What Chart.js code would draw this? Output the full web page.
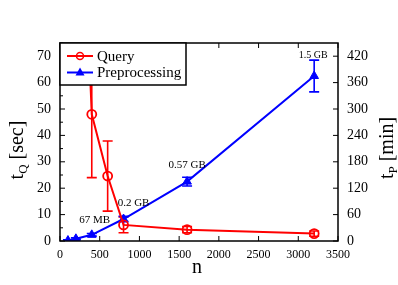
<!DOCTYPE html>
<html><head><meta charset="utf-8">
<script src="https://cdn.jsdelivr.net/npm/chart.js@4/dist/chart.umd.min.js"></script>
<style>html,body{margin:0;padding:0;background:#fff}#wrap{width:398px;height:285px}</style>
</head><body><div id="wrap"><canvas id="c" width="398" height="285"></canvas></div>
<script>
// ---- data ----
const queryN   = [200, 400, 600, 800, 1600, 3200];
const queryT   = [190, 48, 24.6, 6.1, 4.3, 2.8];      // seconds
const queryErr = [0, 24, 13.3, 3.0, 1.2, 1.0];
const preN     = [100, 200, 400, 800, 1600, 3200];
const preT     = [1, 5, 14, 50, 135, 375];            // minutes
const preErr   = [2, 2, 3, 6, 10, 36];
const sizeLabels = ['', '', '67 MB', '0.2 GB', '0.57 GB', '1.5 GB'];
const xTicks      = [0, 500, 1000, 1500, 2000, 2500, 3000, 3500];
const yLeftTicks  = [0, 10, 20, 30, 40, 50, 60, 70];
const yRightTicks = [0, 60, 120, 180, 240, 300, 360, 420];
const seriesNames = ['Query', 'Preprocessing'];

const RED = '#ff0000', BLUE = '#0000ff';
const SERIF = "'Liberation Serif', 'DejaVu Serif', serif";
Chart.defaults.font.family = SERIF;
Chart.defaults.color = '#000';

const labelOffsets = [null, null, [3, -15], [10, -16], [0, -16], [-1, -21]];
const labelFonts = [0, 0, 11, 11, 11, 10];

const extras = {
  id: 'extras',
  beforeDatasetsDraw(chart) {
    const {ctx, chartArea: a, scales} = chart;
    ctx.save();
    ctx.beginPath(); ctx.rect(a.left, a.top, a.right - a.left, a.bottom - a.top); ctx.clip();
    const bars = (ns, ts, es, yS, col) => {
      ctx.strokeStyle = col; ctx.lineWidth = 1.6;
      ns.forEach((n, i) => {
        if (!es[i]) return;
        const x = scales.x.getPixelForValue(n);
        const y1 = yS.getPixelForValue(ts[i] - es[i]);
        const y2 = yS.getPixelForValue(ts[i] + es[i]);
        ctx.beginPath();
        ctx.moveTo(x, y1); ctx.lineTo(x, y2);
        ctx.moveTo(x - 5, y1); ctx.lineTo(x + 5, y1);
        ctx.moveTo(x - 5, y2); ctx.lineTo(x + 5, y2);
        ctx.stroke();
      });
    };
    bars(queryN, queryT, queryErr, scales.y, RED);
    bars(preN, preT, preErr, scales.y2, BLUE);
    ctx.restore();
  },
  afterDraw(chart) {
    const {ctx, chartArea: a, scales} = chart;
    ctx.save();
    // frame
    ctx.strokeStyle = '#000'; ctx.lineWidth = 1.5;
    ctx.strokeRect(a.left, a.top, a.right - a.left, a.bottom - a.top);
    // inward ticks
    ctx.lineWidth = 1;
    ctx.beginPath();
    xTicks.forEach(v => {
      const x = scales.x.getPixelForValue(v);
      ctx.moveTo(x, a.bottom); ctx.lineTo(x, a.bottom - 5);
      ctx.moveTo(x, a.top); ctx.lineTo(x, a.top + 5);
    });
    for (let v = 0; v <= 75; v += 5) {
      const y = scales.y.getPixelForValue(v);
      ctx.moveTo(a.left, y); ctx.lineTo(a.left + (v % 10 === 0 ? 5 : 3), y);
    }
    yRightTicks.forEach(v => {
      const y = scales.y2.getPixelForValue(v);
      ctx.moveTo(a.right, y); ctx.lineTo(a.right - 5, y);
    });
    ctx.stroke();

    // size annotations
    ctx.fillStyle = '#000'; ctx.textAlign = 'center'; ctx.textBaseline = 'middle';
    preN.forEach((n, i) => {
      if (!sizeLabels[i]) return;
      const x = scales.x.getPixelForValue(n) + labelOffsets[i][0];
      const y = scales.y2.getPixelForValue(preT[i]) + labelOffsets[i][1];
      ctx.font = labelFonts[i] + 'px ' + SERIF;
      ctx.fillText(sizeLabels[i], x, y);
    });

    // legend
    const lx = a.left, ly = a.top, lw = 126, lh = 42;
    ctx.fillStyle = '#fff'; ctx.fillRect(lx, ly, lw, lh);
    ctx.strokeStyle = '#000'; ctx.lineWidth = 1.5; ctx.strokeRect(lx, ly, lw, lh);
    const rows = [[RED, 'circle', 13], [BLUE, 'triangle', 29.5]];
    rows.forEach(([col, shape, dy], i) => {
      const yy = ly + dy;
      ctx.strokeStyle = col; ctx.fillStyle = col; ctx.lineWidth = 2;
      ctx.beginPath(); ctx.moveTo(lx + 7, yy); ctx.lineTo(lx + 33, yy); ctx.stroke();
      if (shape === 'circle') {
        ctx.lineWidth = 1.5;
        ctx.beginPath(); ctx.arc(lx + 20, yy, 3.5, 0, Math.PI * 2); ctx.stroke();
      } else {
        ctx.beginPath();
        ctx.moveTo(lx + 20, yy - 5); ctx.lineTo(lx + 24.5, yy + 3); ctx.lineTo(lx + 15.5, yy + 3);
        ctx.closePath(); ctx.fill();
      }
      ctx.fillStyle = '#000'; ctx.textAlign = 'left'; ctx.textBaseline = 'middle';
      ctx.font = '15px ' + SERIF;
      ctx.fillText(seriesNames[i], lx + 37, yy + 1);
    });

    // axis titles
    const subTitle = (main, sub, rest, cx, cy, rot) => {
      ctx.save();
      ctx.translate(cx, cy); if (rot) ctx.rotate(-Math.PI / 2);
      ctx.fillStyle = '#000'; ctx.textBaseline = 'alphabetic'; ctx.textAlign = 'left';
      const f1 = '20px ' + SERIF, f2 = '13px ' + SERIF;
      ctx.font = f1; const w1 = ctx.measureText(main).width;
      ctx.font = f2; const w2 = ctx.measureText(sub).width;
      ctx.font = f1; const w3 = ctx.measureText(rest).width;
      let x = -(w1 + w2 + w3) / 2; const base = 6;
      ctx.font = f1; ctx.fillText(main, x, base); x += w1;
      ctx.font = f2; ctx.fillText(sub, x, base + 4); x += w2;
      ctx.font = f1; ctx.fillText(rest, x, base);
      ctx.restore();
    };
    subTitle('t', 'Q', ' [sec]', 17, 150, true);
    subTitle('t', 'P', ' [min]', 387, 148, true);
    ctx.font = '20px ' + SERIF; ctx.fillStyle = '#000'; ctx.textAlign = 'center'; ctx.textBaseline = 'middle';
    ctx.fillText('n', 197, 268);
    ctx.restore();
  }
};

new Chart(document.getElementById('c'), {
  type: 'line',
  data: {
    datasets: [
      {
        label: seriesNames[0], yAxisID: 'y',
        data: queryN.map((n, i) => ({x: n, y: queryT[i]})),
        borderColor: RED, backgroundColor: 'rgba(0,0,0,0)', borderWidth: 2,
        pointStyle: 'circle', pointRadius: 4.5, pointBorderWidth: 1.8,
        pointBorderColor: RED, pointBackgroundColor: 'rgba(0,0,0,0)', tension: 0
      },
      {
        label: seriesNames[1], yAxisID: 'y2',
        data: preN.map((n, i) => ({x: n, y: preT[i]})),
        borderColor: BLUE, backgroundColor: BLUE, borderWidth: 2,
        pointStyle: 'triangle', pointRadius: 5, pointBorderWidth: 1,
        pointBorderColor: BLUE, pointBackgroundColor: BLUE, tension: 0
      }
    ]
  },
  options: {
    responsive: false, animation: false, devicePixelRatio: 1,
    layout: {padding: {top: 43, left: 0, right: 0, bottom: 0}},
    plugins: {legend: {display: false}, tooltip: {enabled: false}},
    scales: {
      x: {
        type: 'linear', min: 0, max: 3500,
        afterBuildTicks: s => { s.ticks = xTicks.map(v => ({value: v})); },
        afterFit: s => { s.height = 44; },
        ticks: {font: {size: 12}, padding: 7, maxRotation: 0, color: '#000', callback: v => String(v)},
        grid: {display: false, drawTicks: false}, border: {display: false}
      },
      y: {
        type: 'linear', position: 'left', min: 0, max: 75,
        afterBuildTicks: s => { s.ticks = yLeftTicks.map(v => ({value: v})); },
        afterFit: s => { s.width = 60; },
        ticks: {font: {size: 14}, padding: 9, color: '#000', callback: v => String(v)},
        grid: {display: false, drawTicks: false}, border: {display: false}
      },
      y2: {
        type: 'linear', position: 'right', min: 0, max: 450,
        afterBuildTicks: s => { s.ticks = yRightTicks.map(v => ({value: v})); },
        afterFit: s => { s.width = 60; },
        ticks: {font: {size: 14}, padding: 9, color: '#000', callback: v => String(v)},
        grid: {display: false, drawTicks: false}, border: {display: false}
      }
    }
  },
  plugins: [extras]
});
</script></body></html>
